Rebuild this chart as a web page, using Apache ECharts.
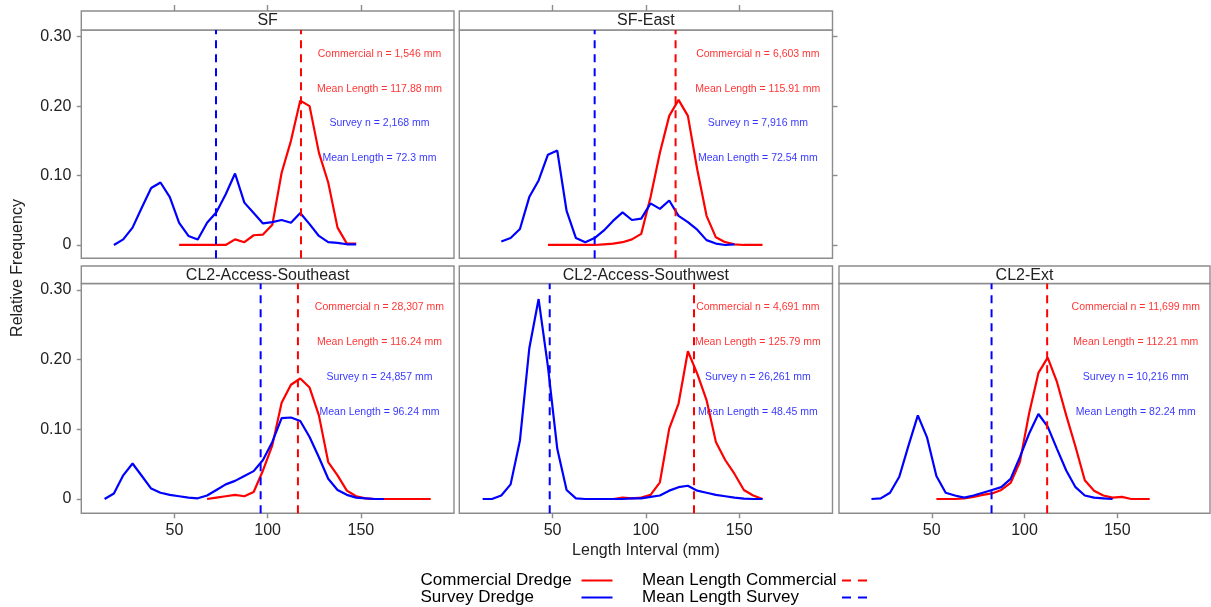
<!DOCTYPE html>
<html>
<head>
<meta charset="utf-8">
<title>Length frequency by area</title>
<script src="https://cdn.jsdelivr.net/npm/echarts@6/dist/echarts.min.js"></script>
<style>
  html, body { margin: 0; padding: 0; background: #fff; }
  #chart { width: 1211px; height: 607px; }
</style>
</head>
<body>
<div id="chart"></div>
<script>
// ============ Data ============
const _ = null
const panels = ['SF', 'SF-East', 'CL2-Access-Southeast', 'CL2-Access-Southwest', 'CL2-Ext']

// 5 mm length bins (mid points)
const lengthBins = [12.5, 17.5, 22.5, 27.5, 32.5, 37.5, 42.5, 47.5, 52.5, 57.5, 62.5, 67.5,
  72.5, 77.5, 82.5, 87.5, 92.5, 97.5, 102.5, 107.5, 112.5, 117.5, 122.5, 127.5,
  132.5, 137.5, 142.5, 147.5, 152.5, 157.5, 162.5, 167.5, 172.5, 177.5, 182.5, 187.5]

const commercialSF = [_, _, _, _, _, _, _, _, 0, 0, 0, 0, 0, 0, .008, .004, .014, .015, .029, .104, .150, .208, .200, .133, .090, .025, .002, .002, _, _, _, _, _, _, _, _]
const surveySF = [_, 0, .008, .025, .054, .082, .090, .069, .032, .013, .008, .032, .047, .073, .103, .061, .046, .031, .033, .036, .032, .046, .030, .013, .004, .003, .001, .001, _, _, _, _, _, _, _, _]

const commercialSFEast = [_, _, _, _, _, _, _, 0, 0, 0, 0, 0, 0, .001, .002, .004, .008, .016, .069, .133, .186, .209, .186, .109, .042, .011, .004, .001, 0, 0, 0, _, _, _, _, _]
const surveySFEast = [_, _, .005, .010, .023, .069, .093, .130, .136, .049, .010, .004, .010, .021, .035, .047, .036, .038, .060, .052, .064, .042, .033, .022, .007, .002, 0, .001, _, _, _, _, _, _, _, _]

const commercialSE = [_, _, _, _, _, _, _, _, _, _, _, 0, .002, .004, .006, .004, .010, .041, .077, .138, .164, .173, .160, .120, .053, .034, .012, .004, .001, 0, 0, 0, 0, 0, 0, 0]
const surveySE = [0, .008, .034, .051, .033, .015, .009, .006, .004, .002, .001, .005, .013, .021, .026, .033, .040, .056, .082, .116, .117, .112, .089, .060, .029, .013, .006, .002, .001, 0, 0, _, _, _, _, _]

const commercialSW = [_, _, _, _, _, _, _, _, _, _, _, _, _, _, 0, .002, .001, .002, .006, .024, .101, .137, .212, .180, .142, .082, .056, .036, .013, .005, 0, _, _, _, _, _]
const surveySW = [0, 0, .005, .021, .084, .216, .287, .190, .072, .013, .001, 0, 0, 0, 0, 0, .001, .001, .003, .005, .012, .017, .019, .012, .009, .006, .004, .002, .0005, 0, 0, _, _, _, _, _]

const commercialExt = [_, _, _, _, _, _, _, _, 0, 0, 0, .001, .003, .006, .008, .013, .023, .053, .123, .181, .203, .168, .120, .075, .027, .012, .005, .002, .003, 0, 0, 0, _, _, _, _]
const surveyExt = [_, 0, .001, .009, .032, .077, .120, .088, .033, .009, .005, .002, .005, .009, .013, .017, .029, .060, .094, .122, .104, .072, .041, .017, .005, .002, .001, 0, _, _, _, _, _, _, _, _]

const commercialFreq = [commercialSF, commercialSFEast, commercialSE, commercialSW, commercialExt]
const surveyFreq = [surveySF, surveySFEast, surveySE, surveySW, surveyExt]

const commercialN = [1546, 6603, 28307, 4691, 11699]
const commercialMean = [117.88, 115.91, 116.24, 125.79, 112.21]
const surveyN = [2168, 7916, 24857, 26261, 10216]
const surveyMean = [72.3, 72.54, 96.24, 48.45, 82.24]

const xTicks = [50, 100, 150]
const yTicks = [0, 0.1, 0.2, 0.3]

// ============ Layout ============
const RED = '#ff0000'
const BLUE = '#0000ff'
const FRAME = '#8c8c8c'
const TEXT = '#222'
const FONT = '"Liberation Sans", Arial, sans-serif'

const cols = [
  { left: 81.3, width: 372.7 },
  { left: 459.3, width: 373.2 },
  { left: 839, width: 371 },
]
const rows = [
  { stripTop: 11, top: 30, height: 228.3, yMin: -0.0192, yMax: 0.3097 },
  { stripTop: 266, top: 283.5, height: 229.8, yMin: -0.0205, yMax: 0.3093 },
]
const panelCell = [[0, 0], [0, 1], [1, 0], [1, 1], [1, 2]]
const annotX = 160
const annotY = [0.275, 0.225, 0.175, 0.125]

const fmt = (n) => n.toLocaleString('en-US')

const grid = []
const xAxis = []
const yAxis = []
const series = []
const graphic = []

panels.forEach((name, p) => {
  const [r, c] = panelCell[p]
  const col = cols[c]
  const row = rows[r]
  const bottomRow = r === 1

  // plot panel
  const g = grid.length
  grid.push({
    left: col.left, top: row.top, width: col.width, height: row.height,
    show: true, backgroundColor: '#fff', borderColor: FRAME, borderWidth: 1.4,
  })
  const xi = xAxis.length
  xAxis.push({
    gridIndex: g, type: 'value', min: 0, max: 200,
    axisLine: { show: false, onZero: false },
    splitLine: { show: false },
    axisTick: { show: bottomRow, customValues: xTicks, length: 5, lineStyle: { color: FRAME, width: 1.4 } },
    axisLabel: { show: bottomRow, customValues: xTicks, fontSize: 16, color: TEXT, margin: 9, fontFamily: FONT },
    name: p === 3 ? 'Length Interval (mm)' : '',
    nameLocation: 'middle', nameGap: 29,
    nameTextStyle: { fontSize: 16, color: TEXT, fontFamily: FONT },
  })
  const yi = yAxis.length
  yAxis.push({
    gridIndex: g, type: 'value', min: row.yMin, max: row.yMax,
    axisLine: { show: false, onZero: false },
    splitLine: { show: false },
    axisTick: { show: c === 0, customValues: yTicks, length: 4.5, lineStyle: { color: FRAME, width: 1.4 } },
    axisLabel: {
      show: c === 0, customValues: yTicks, fontSize: 16, color: TEXT, margin: 10, fontFamily: FONT,
      formatter: (v) => (v === 0 ? '0' : v.toFixed(2)),
    },
  })
  if (p === 1) {
    // ticks on the right edge of SF-East
    yAxis.push({
      gridIndex: g, type: 'value', position: 'right', min: row.yMin, max: row.yMax,
      axisLine: { show: false, onZero: false },
      splitLine: { show: false },
      axisTick: { show: true, customValues: yTicks, length: 5, lineStyle: { color: FRAME, width: 1.4 } },
      axisLabel: { show: false },
    })
  }

  // strip
  const sg = grid.length
  grid.push({
    left: col.left, top: row.stripTop, width: col.width, height: row.top - row.stripTop,
    show: true, backgroundColor: '#fff', borderColor: FRAME, borderWidth: 1.4,
  })
  xAxis.push({
    gridIndex: sg, type: 'value', position: 'top', min: 0, max: 200,
    axisLine: { show: false, onZero: false },
    splitLine: { show: false },
    axisTick: { show: !bottomRow, customValues: xTicks, length: 6, lineStyle: { color: FRAME, width: 1.4 } },
    axisLabel: { show: false },
  })
  yAxis.push({ gridIndex: sg, type: 'value', show: false, min: 0, max: 1 })
  graphic.push({
    type: 'text',
    x: col.left + col.width / 2,
    y: row.stripTop + (row.top - row.stripTop) / 2 + 0.5,
    style: { text: name, fill: TEXT, font: '16px ' + FONT, textAlign: 'center', textVerticalAlign: 'middle' },
  })

  const base = { type: 'line', xAxisIndex: xi, yAxisIndex: yi, symbol: 'none', silent: true, connectNulls: false }
  series.push({
    ...base, name: 'Commercial Dredge',
    data: lengthBins.map((x, i) => [x, commercialFreq[p][i]]),
    lineStyle: { color: RED, width: 2.2 }, itemStyle: { color: RED },
  })
  series.push({
    ...base, name: 'Survey Dredge',
    data: lengthBins.map((x, i) => [x, surveyFreq[p][i]]),
    lineStyle: { color: BLUE, width: 2.2 }, itemStyle: { color: BLUE },
  })
  series.push({
    ...base, name: 'Mean Length Commercial',
    data: [[commercialMean[p], row.yMin], [commercialMean[p], row.yMax]],
    lineStyle: { color: RED, width: 2, type: [8, 6] }, itemStyle: { color: RED },
  })
  series.push({
    ...base, name: 'Mean Length Survey',
    data: [[surveyMean[p], row.yMin], [surveyMean[p], row.yMax]],
    lineStyle: { color: BLUE, width: 2, type: [8, 6] }, itemStyle: { color: BLUE },
  })

  // annotations
  const notes = [
    ['Commercial n = ' + fmt(commercialN[p]) + ' mm', RED],
    ['Mean Length = ' + commercialMean[p] + ' mm', RED],
    ['Survey n = ' + fmt(surveyN[p]) + ' mm', BLUE],
    ['Mean Length = ' + surveyMean[p] + ' mm', BLUE],
  ]
  series.push({
    type: 'scatter', xAxisIndex: xi, yAxisIndex: yi, silent: true,
    symbolSize: 0.1, itemStyle: { color: 'rgba(0,0,0,0)' },
    label: { show: true, position: 'inside', formatter: '{b}', fontSize: 10.5, fontFamily: FONT },
    data: notes.map(([text, color], k) => ({
      name: text, value: [annotX, annotY[k]], label: { color },
    })),
  })
})

graphic.push({
  type: 'text', x: 18, y: 268, rotation: Math.PI / 2,
  style: { text: 'Relative Frequency', fill: TEXT, font: '16px ' + FONT, textAlign: 'center', textVerticalAlign: 'middle' },
})

// legend text is left aligned in a fixed-width box so the keys line up
const legendText = (w) => ({
  fontSize: 17, color: '#000', fontFamily: FONT, lineHeight: 16.5,
  rich: { t: { width: w, align: 'left', fontSize: 17, color: '#000', fontFamily: FONT, lineHeight: 16.5 } },
})
const dashIcon = 'path://M0,0h9v2h-9zM16,0h9v2h-9z'

const chart = echarts.init(document.getElementById('chart'))
chart.setOption({
  animation: false,
  backgroundColor: '#fff',
  grid, xAxis, yAxis, series, graphic,
  legend: [
    {
      orient: 'vertical', left: 420.5, top: 572, height: 40, padding: 0, align: 'right',
      itemWidth: 31, itemHeight: 2, itemGap: 0, selectedMode: false,
      textStyle: legendText(156),
      formatter: (n) => '{t|' + n + '}',
      data: [
        { name: 'Commercial Dredge', icon: 'rect', itemStyle: { color: RED, borderWidth: 0 } },
        { name: 'Survey Dredge', icon: 'rect', itemStyle: { color: BLUE, borderWidth: 0 } },
      ],
    },
    {
      orient: 'vertical', left: 642, top: 572, height: 40, padding: 0, align: 'right',
      itemWidth: 25, itemHeight: 2, itemGap: 0, selectedMode: false,
      textStyle: legendText(195),
      formatter: (n) => '{t|' + n + '}',
      data: [
        { name: 'Mean Length Commercial', icon: dashIcon, itemStyle: { color: RED, borderWidth: 0 } },
        { name: 'Mean Length Survey', icon: dashIcon, itemStyle: { color: BLUE, borderWidth: 0 } },
      ],
    },
  ],
})
</script>
</body>
</html>
